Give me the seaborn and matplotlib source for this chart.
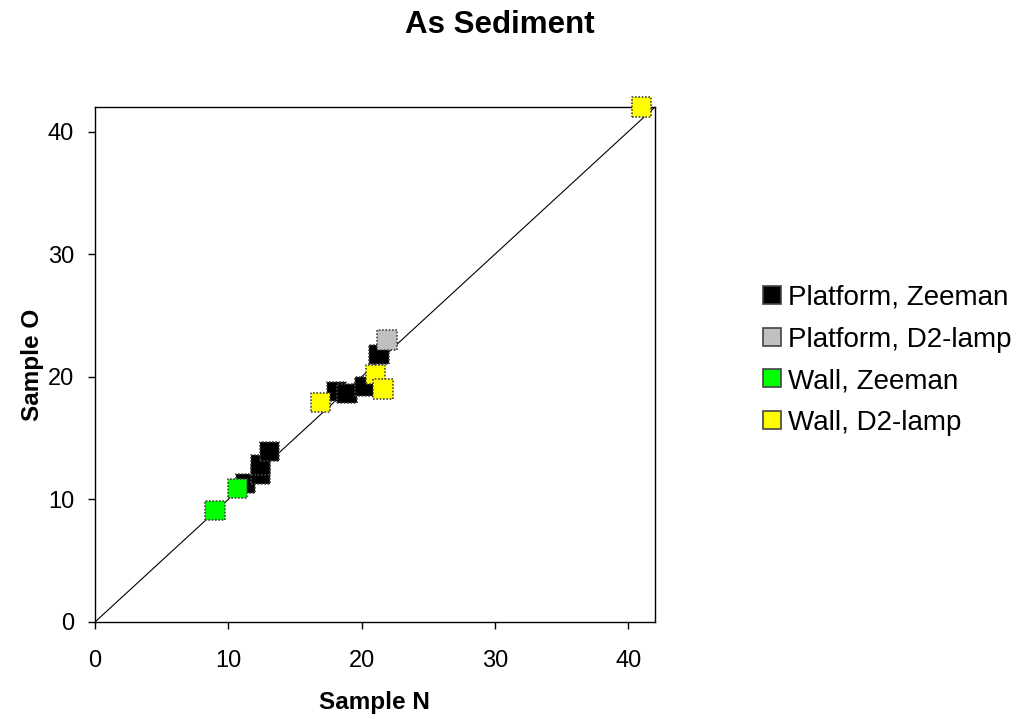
import matplotlib
matplotlib.use("Agg")
import matplotlib.pyplot as plt
import seaborn as sns
import pandas as pd

# Sample N / Sample O results for arsenic in sediment, by atomizer and background correction
platform_zeeman_n = [11.3, 12.4, 12.4, 13.1, 18.1, 18.9, 20.25, 21.3]
platform_zeeman_o = [11.3, 12.0, 12.8, 13.9, 18.8, 18.65, 19.2, 21.8]
platform_d2_n = [21.9]
platform_d2_o = [23.0]
wall_zeeman_n = [9.0, 10.7]
wall_zeeman_o = [9.1, 10.9]
wall_d2_n = [16.9, 21.05, 21.6, 41.0]
wall_d2_o = [17.9, 20.15, 19.0, 42.0]

groups = ["Platform, Zeeman", "Platform, D2-lamp", "Wall, Zeeman", "Wall, D2-lamp"]
colors = ["#000000", "#c0c0c0", "#00ff00", "#ffff00"]
ticks = [0, 10, 20, 30, 40]
axis_max = 42

rows = []
for g, xs, ys in zip(groups,
                     [platform_zeeman_n, platform_d2_n, wall_zeeman_n, wall_d2_n],
                     [platform_zeeman_o, platform_d2_o, wall_zeeman_o, wall_d2_o]):
    for x, y in zip(xs, ys):
        rows.append({"Sample N": x, "Sample O": y, "Group": g})
df = pd.DataFrame(rows)

sns.set_theme(style="white")
plt.rcParams["font.family"] = ["Liberation Sans", "DejaVu Sans"]
plt.rcParams["text.color"] = "black"
plt.rcParams["axes.labelcolor"] = "black"
plt.rcParams["xtick.color"] = "black"
plt.rcParams["ytick.color"] = "black"

fig = plt.figure(figsize=(10.19, 7.19), dpi=100)
ax = fig.add_axes([95 / 1019, 1 - 622 / 719, 560 / 1019, 515 / 719])

# line of equality
ax.plot([0, axis_max], [0, axis_max], color="black", lw=0.8, zorder=1)

sns.scatterplot(data=df, x="Sample N", y="Sample O", hue="Group",
                hue_order=groups, palette=colors, marker="s", s=190,
                edgecolor="#444444", linewidth=1.2, linestyle=(0, (1, 1)),
                ax=ax, zorder=3, clip_on=False, legend=True)

ax.set_xlim(0, axis_max)
ax.set_ylim(0, axis_max)
ax.set_xticks(ticks)
ax.set_yticks(ticks)
ax.tick_params(axis="both", which="major", direction="out", length=5,
               width=1, color="black", labelsize=17, labelcolor="black",
               bottom=True, left=True, top=False, right=False)
ax.tick_params(axis="x", pad=15)
ax.tick_params(axis="y", pad=10)
for sp in ax.spines.values():
    sp.set_color("black")
    sp.set_linewidth(1.0)

ax.set_xlabel("Sample N", fontsize=17.5, fontweight="bold", va="center")
ax.set_ylabel("Sample O", fontsize=17.5, fontweight="bold", va="center")
ax.xaxis.set_label_coords((374 - 95) / 560, (622 - 702) / 515)
ax.yaxis.set_label_coords((33 - 95) / 560, (622 - 365) / 515)
fig.text(500 / 1019, 1 - 25 / 719, "As Sediment", ha="center", va="center",
         fontsize=22.5, fontweight="bold")

handles, labels = ax.get_legend_handles_labels()
for h in handles:
    h.set_linestyle("none")
    h.set_markersize(13)
    h.set_markeredgecolor("#444444")
ax.legend(handles, labels, loc="upper left",
          bbox_to_anchor=((762 - 95) / 560, (622 - 285) / 515),
          frameon=False, fontsize=20, handletextpad=0.22, labelspacing=0.56,
          borderaxespad=0, borderpad=0, handlelength=0.72)

fig.savefig("out.png", dpi=100)
